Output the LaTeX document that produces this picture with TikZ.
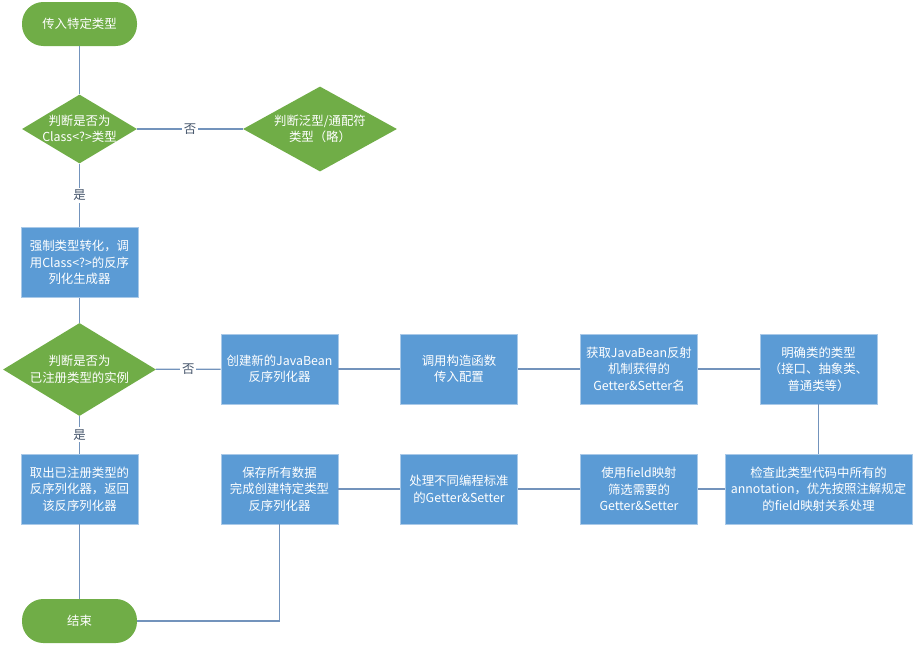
\documentclass[tikz,border=0pt]{standalone}
\usepackage{fontspec}
\setmainfont{Noto Sans CJK SC}
\usetikzlibrary{shapes.geometric}
\definecolor{fgreen}{HTML}{70AD47}
\definecolor{fblue}{HTML}{5B9BD5}
\definecolor{fborder}{HTML}{A9C9E8}
\definecolor{fline}{HTML}{7393BC}
\definecolor{flabel}{HTML}{44546A}
\tikzset{
  base/.style={font=\fontsize{9.3pt}{12.4pt}\selectfont, text=white, align=center, inner sep=0pt},
  term/.style={base, rectangle, rounded corners=16pt, fill=fgreen, minimum width=115*0.75pt, minimum height=44*0.75pt},
  dec/.style={base, diamond, fill=fgreen},
  proc/.style={base, rectangle, fill=fblue, draw=fborder, line width=0.6pt, minimum width=117*0.75pt, minimum height=70*0.75pt},
  conn/.style={draw=fline, line width=0.9pt},
  lbl/.style={font=\fontsize{9.3pt}{11pt}\selectfont, text=flabel, fill=white, inner sep=1.5pt}
}
\begin{document}
\begin{tikzpicture}[x=0.75pt,y=-0.75pt]
\useasboundingbox (0,0) rectangle (916,646);
\node[term] (start) at (79.5,24) {传入特定类型};
\node[dec, minimum width=115*0.75pt, minimum height=69*0.75pt] (d1) at (79.5,129) {};
\node[base] (d1t) at (79.5,129) {判断是否为\\Class<?>类型};
\node[dec, minimum width=154*0.75pt, minimum height=85*0.75pt] (d2) at (320,129) {};
\node[base] (d2t) at (320,129) {判断泛型/通配符\\类型（略）};
\node[proc] (b1) at (79.5,262.5) {强制类型转化，调\\用Class<?>的反序\\列化生成器};
\node[dec, minimum width=153*0.75pt, minimum height=93*0.75pt] (d3) at (79.5,369.5) {};
\node[base] (d3t) at (79.5,369.5) {判断是否为\\已注册类型的实例};
\node[proc] (b2) at (279.5,369) {创建新的JavaBean\\反序列化器};
\node[proc] (b3) at (459,369) {调用构造函数\\传入配置};
\node[proc] (b4) at (639,369) {获取JavaBean反射\\机制获得的\\Getter\&Setter名};
\node[proc] (b5) at (818.5,369) {明确类的类型\\（接口、抽象类、\\普通类等）};
\node[proc, minimum width=187*0.75pt] (b6) at (818.5,489) {检查此类型代码中所有的\\annotation，优先按照注解规定\\的field映射关系处理};
\node[proc] (b7) at (639,489) {使用field映射\\筛选需要的\\Getter\&Setter};
\node[proc] (b8) at (459,489) {处理不同编程标准\\的Getter\&Setter};
\node[proc] (b9) at (279.5,489) {保存所有数据\\完成创建特定类型\\反序列化器};
\node[proc] (b10) at (79.5,489) {取出已注册类型的\\反序列化器，返回\\该反序列化器};
\node[term] (end) at (79.5,621) {结束};

\draw[conn] (start) -- (d1);
\draw[conn] (d1) -- node[lbl] {否} (d2);
\draw[conn] (d1) -- node[lbl] {是} (b1);
\draw[conn] (b1) -- (d3);
\draw[conn] (d3) -- node[lbl] {否} (b2);
\draw[conn] (b2) -- (b3);
\draw[conn] (b3) -- (b4);
\draw[conn] (b4) -- (b5);
\draw[conn] (b5) -- (b6);
\draw[conn] (b6) -- (b7);
\draw[conn] (b7) -- (b8);
\draw[conn] (b8) -- (b9);
\draw[conn] (b9.south) |- (end.east);
\draw[conn] (d3) -- node[lbl] {是} (b10);
\draw[conn] (b10) -- (end);
\end{tikzpicture}
\end{document}
